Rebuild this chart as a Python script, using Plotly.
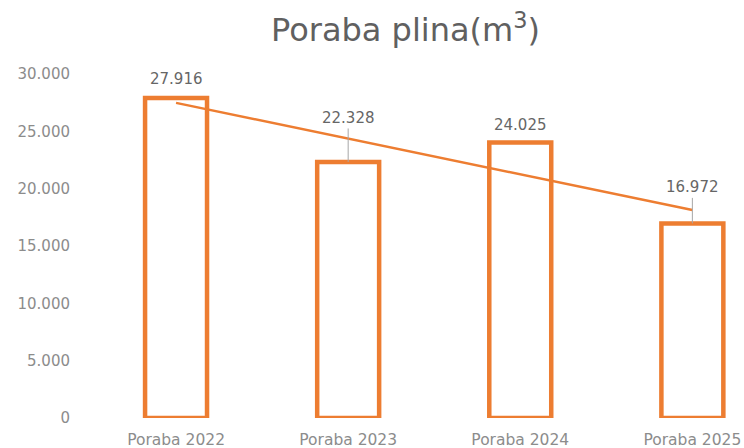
import numpy as np
import plotly.graph_objects as go

categories = ["Poraba 2022", "Poraba 2023", "Poraba 2024", "Poraba 2025"]
values = [27916, 22328, 24025, 16972]
value_labels = ["27.916", "22.328", "24.025", "16.972"]
y_tick_vals = [0, 5000, 10000, 15000, 20000, 25000, 30000]
y_tick_text = ["0", "5.000", "10.000", "15.000", "20.000", "25.000", "30.000"]

# label styling (pixel offsets above bar tops; leader line shown where True)
label_offsets = [-19, -44, -18, -36]
label_leader = [False, True, False, True]

ORANGE = "#ED7D31"
FONT = "DejaVu Sans"
x_idx = np.arange(len(categories))
slope, intercept = np.polyfit(x_idx, values, 1)
trend = slope * x_idx + intercept

fig = go.Figure()
fig.add_trace(go.Bar(
    x=x_idx, y=values, width=0.36,
    marker=dict(color="white", line=dict(color=ORANGE, width=4.5)),
    hoverinfo="skip", showlegend=False,
))
fig.add_trace(go.Scatter(
    x=[x_idx[0], x_idx[-1]], y=[trend[0], trend[-1]], mode="lines",
    line=dict(color=ORANGE, width=2.5), showlegend=False, hoverinfo="skip",
))

for i, (v, t) in enumerate(zip(values, value_labels)):
    if label_leader[i]:
        fig.add_annotation(x=i, y=v, text=t, showarrow=True, arrowhead=0,
                           arrowwidth=1, arrowcolor="#A6A6A6", ax=0, ay=label_offsets[i],
                           font=dict(family=FONT, size=15, color="#666666"))
    else:
        fig.add_annotation(x=i, y=v, text=t, showarrow=False, yshift=-label_offsets[i],
                           font=dict(family=FONT, size=15, color="#666666"))

fig.add_annotation(xref="paper", yref="paper", x=(405 - 90) / 654, y=1.0, yshift=46,
                   xanchor="center", yanchor="middle",
                   text="Poraba plina(m<sup>3</sup>)", showarrow=False,
                   font=dict(family=FONT, size=32, color="#606060"))

fig.update_layout(
    width=744, height=448,
    margin=dict(l=90, r=0, t=74, b=30),
    plot_bgcolor="white", paper_bgcolor="white",
    xaxis=dict(range=[-0.5, 3.3], tickvals=list(x_idx), ticktext=categories,
               showgrid=False, zeroline=False, showline=False, automargin=False,
               ticklabeloverflow="allow",
               ticks="outside", ticklen=7, tickcolor="rgba(0,0,0,0)",
               tickfont=dict(family=FONT, size=15.5, color="#8C8C8C")),
    yaxis=dict(range=[0, 30000], tickvals=y_tick_vals, ticktext=y_tick_text,
               showgrid=False, zeroline=False, showline=False, automargin=False,
               ticks="outside", ticklen=16, tickcolor="rgba(0,0,0,0)",
               tickfont=dict(family=FONT, size=15, color="#8C8C8C")),
)

fig.write_html("out.html", config={"displayModeBar": False},
               post_script="document.body.style.margin='0';document.body.style.overflow='hidden';")
